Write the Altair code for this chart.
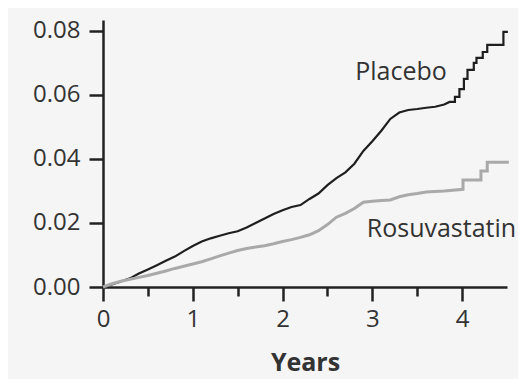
import altair as alt
import pandas as pd

# Cumulative incidence (step corners where steps are visible)
placebo_t = [0.00, 0.10, 0.20, 0.30, 0.40, 0.50, 0.60, 0.70, 0.80, 0.90,
             1.00, 1.10, 1.20, 1.30, 1.40, 1.50, 1.60, 1.70, 1.80, 1.90,
             2.00, 2.10, 2.20, 2.30, 2.40, 2.50, 2.60, 2.70, 2.80, 2.90,
             3.00, 3.10, 3.20, 3.30, 3.40, 3.50, 3.60, 3.70, 3.80, 3.86,
             3.92, 3.92, 3.97, 3.97, 4.02, 4.02, 4.06, 4.06, 4.13, 4.13,
             4.16, 4.16, 4.23, 4.23, 4.28, 4.28, 4.46, 4.46, 4.51]
placebo_v = [0.0000, 0.0008, 0.0017, 0.0027, 0.0042, 0.0055, 0.0068, 0.0082, 0.0095, 0.0112,
             0.0128, 0.0142, 0.0152, 0.0160, 0.0168, 0.0174, 0.0186, 0.0200, 0.0214, 0.0228,
             0.0240, 0.0250, 0.0256, 0.0275, 0.0292, 0.0318, 0.0340, 0.0358, 0.0385, 0.0425,
             0.0455, 0.0488, 0.0525, 0.0545, 0.0553, 0.0556, 0.0560, 0.0563, 0.0570, 0.0578,
             0.0578, 0.0594, 0.0594, 0.0618, 0.0618, 0.0650, 0.0650, 0.0678, 0.0678, 0.0700,
             0.0700, 0.0716, 0.0716, 0.0734, 0.0734, 0.0756, 0.0756, 0.0797, 0.0797]

rosu_t = [0.00, 0.10, 0.20, 0.30, 0.40, 0.50, 0.60, 0.70, 0.80, 0.90,
          1.00, 1.10, 1.20, 1.30, 1.40, 1.50, 1.60, 1.70, 1.80, 1.90,
          2.00, 2.10, 2.20, 2.30, 2.40, 2.50, 2.60, 2.70, 2.80, 2.90,
          3.00, 3.10, 3.20, 3.30, 3.40, 3.50, 3.60, 3.80, 4.01, 4.01,
          4.21, 4.21, 4.28, 4.28, 4.52]
rosu_v = [0.0000, 0.0010, 0.0018, 0.0024, 0.0030, 0.0036, 0.0043, 0.0050, 0.0058, 0.0065,
          0.0072, 0.0079, 0.0088, 0.0097, 0.0106, 0.0114, 0.0120, 0.0125, 0.0129, 0.0135,
          0.0142, 0.0148, 0.0155, 0.0163, 0.0176, 0.0195, 0.0218, 0.0230, 0.0245, 0.0265,
          0.0268, 0.0270, 0.0272, 0.0282, 0.0288, 0.0292, 0.0297, 0.0300, 0.0305, 0.0334,
          0.0334, 0.0362, 0.0362, 0.0390, 0.0390]

x_ticks = [0, 0.5, 1, 1.5, 2, 2.5, 3, 3.5, 4]
y_ticks = [0.0, 0.02, 0.04, 0.06, 0.08]

label_text = ["Placebo", "Rosuvastatin"]
label_t = [3.32, 3.77]
label_v = [0.0672, 0.0182]

placebo = pd.DataFrame({"t": placebo_t, "v": placebo_v, "i": range(len(placebo_t))})
rosu = pd.DataFrame({"t": rosu_t, "v": rosu_v, "i": range(len(rosu_t))})
labels = pd.DataFrame({"text": label_text, "t": label_t, "v": label_v})

FONT = "Open Sans"
INK = "#222222"
TXT = "#333333"

xscale = alt.Scale(domain=[0, 4.5], nice=False, zero=False)
yscale = alt.Scale(domain=[0, 0.0834], nice=False, zero=False)

xaxis = alt.Axis(
    values=x_ticks,
    labelExpr="datum.value % 1 === 0 ? format(datum.value, 'd') : ''",
    title="Years",
    titleFontWeight="bold",
    titleFontSize=25,
    titleFont=FONT,
    titleColor=TXT,
    titlePadding=19,
    labelFont=FONT,
    labelFontSize=24,
    labelColor=TXT,
    labelPadding=6,
    tickSize={"condition": {"test": "datum.value % 1 === 0", "value": 14}, "value": 9},
    tickWidth=2.5,
    tickColor=INK,
    domainColor=INK,
    domainWidth=2.5,
    grid=False,
    labelFlush=False,
    labelOverlap=False,
)
yaxis = alt.Axis(
    values=y_ticks,
    format=".2f",
    title=None,
    labelFont=FONT,
    labelFontSize=24,
    labelColor=TXT,
    labelPadding=9,
    tickSize=14,
    tickWidth=2.5,
    tickColor=INK,
    domainColor=INK,
    domainWidth=2.5,
    grid=False,
    labelFlush=False,
    labelOverlap=False,
)

p_line = alt.Chart(placebo).mark_line(
    interpolate="linear", color="#1e1e1e", strokeWidth=2.2, clip=False
).encode(
    x=alt.X("t:Q", scale=xscale, axis=xaxis),
    y=alt.Y("v:Q", scale=yscale, axis=yaxis),
    order="i:Q",
)
r_line = alt.Chart(rosu).mark_line(
    interpolate="linear", color="#a9a9a9", strokeWidth=3, clip=False
).encode(
    x=alt.X("t:Q", scale=xscale),
    y=alt.Y("v:Q", scale=yscale),
    order="i:Q",
)
txt = alt.Chart(labels).mark_text(
    font=FONT, fontSize=25, color=TXT, align="center", baseline="middle"
).encode(
    x=alt.X("t:Q", scale=xscale),
    y=alt.Y("v:Q", scale=yscale),
    text="text:N",
)

chart = alt.layer(p_line, r_line, txt).properties(
    width=404,
    height=267,
    autosize="none",
    padding={"left": 95, "top": 12, "right": 11, "bottom": 92},
    background="#f5f5f5",
).configure_view(stroke=None)

chart.save("out.html", embed_options={"renderer": "svg", "actions": False})
